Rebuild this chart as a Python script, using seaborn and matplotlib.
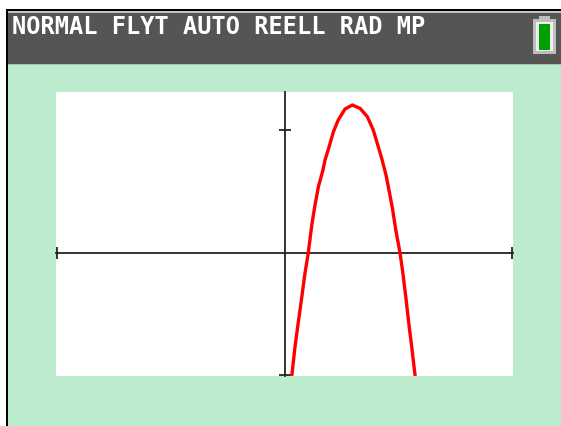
import matplotlib
matplotlib.use("Agg")
import matplotlib.pyplot as plt
from matplotlib.patches import Rectangle
import pandas as pd
import seaborn as sns

# values
curve_x = [0.32, 0.46, 0.59, 0.76, 0.90, 1.04, 1.20, 1.34, 1.49, 1.69, 1.78, 1.96, 2.15, 2.36, 2.66,
           2.98, 3.32, 3.64, 3.90, 4.12, 4.27, 4.46, 4.59, 4.74, 4.89, 5.08, 5.20, 5.33, 5.47, 5.59, 5.74]
curve_y = [-9.96, -7.60, -5.81, -3.54, -1.59, 0.0, 2.32, 3.94, 5.43, 6.79, 7.60, 8.68, 9.90, 10.85, 11.75,
           12.07, 11.80, 11.12, 10.04, 8.68, 7.74, 6.38, 5.16, 3.70, 1.91, 0.0, -1.59, -3.54, -5.81, -7.60, -9.96]
x_ticks = [-10, 10]
y_ticks = [-9.9, 10]
status_text = "NORMAL FLYT AUTO REELL RAD MP"

W, H = 561, 426
BG_GREEN = "#bdebce"
HEADER = "#555653"
AXIS = "#222222"

sns.set_style("white")
plt.rcParams["font.family"] = ["DejaVu Sans Mono"]

fig = plt.figure(figsize=(W / 100, H / 100), dpi=100, facecolor="white")


def box(x0, y0, x1, y1, color):
    # pixel box, y measured from the top of the image, kept behind the axes
    fig.add_artist(Rectangle((x0 / W, 1 - y1 / H), (x1 - x0) / W, (y1 - y0) / H,
                             transform=fig.transFigure, facecolor=color, edgecolor="none",
                             zorder=-1))


# calculator frame and header
box(6, 9, W, H, "black")
box(8, 11, W, H, BG_GREEN)
box(8, 11, W, 13, "#c4c4c2")
box(8, 13, W, 64, HEADER)
box(8, 64, W, 65, "#a8c4b2")

# battery icon
box(539, 16, 550, 20, "#bdbdbd")
box(533, 19, 556, 54, "#bdbdbd")
box(536, 22, 553, 51, "#f0f0f0")
box(539, 24, 550, 50, "#00a000")

fig.text(12 / W, 1 - 34 / H, status_text, color="white", fontsize=17, fontweight="bold",
         ha="left", va="baseline")

# graph window
ax = fig.add_axes([56 / W, 1 - 376 / H, 457 / W, 284 / H], facecolor="white")
df = pd.DataFrame({"x": curve_x, "y": curve_y})
sns.lineplot(data=df, x="x", y="y", sort=False, estimator=None, color="#ff0000", linewidth=2.4,
             ax=ax, zorder=5)

ax.set_xlim(-10.04, 10.04)
ax.set_ylim(-9.96, 13.13)
ax.set_xlabel("")
ax.set_ylabel("")
ax.set_xticks(x_ticks)
ax.set_yticks(y_ticks)
ax.set_xticklabels([])
ax.set_yticklabels([])
ax.tick_params(axis="both", direction="inout", length=8.6, width=1.3, color=AXIS,
               bottom=True, left=True)
ax.spines["left"].set_position(("data", 0))
ax.spines["bottom"].set_position(("data", 0))
ax.spines["left"].set(color=AXIS, linewidth=1.3)
ax.spines["bottom"].set(color=AXIS, linewidth=1.3)
ax.spines["top"].set_visible(False)
ax.spines["right"].set_visible(False)
for t in ax.get_xticklines() + ax.get_yticklines():
    t.set_clip_on(False)

fig.savefig("out.png", dpi=100)
